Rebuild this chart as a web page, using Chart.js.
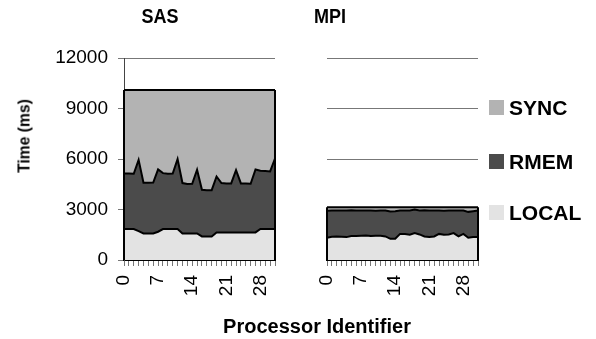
<!DOCTYPE html>
<html>
<head>
<meta charset="utf-8">
<script src="https://cdn.jsdelivr.net/npm/chart.js@4/dist/chart.umd.min.js"></script>
<style>
  body { margin: 0; background: #fff; font-family: "Liberation Sans", Arial, sans-serif; }
  #wrap { position: relative; width: 596px; height: 339px; overflow: hidden; }
  canvas { position: absolute; top: 0; }
  .txt { position: absolute; font-weight: bold; color: #000; line-height: 1; white-space: nowrap; }
  .sq { position: absolute; width: 15px; height: 15px; }
</style>
</head>
<body>
<div id="wrap">
  <canvas id="sas" width="290" height="339" style="left:0"></canvas>
  <canvas id="mpi" width="200" height="339" style="left:300px"></canvas>

  <div class="txt" style="left:160px;top:6px;font-size:20px;transform:translateX(-50%) scaleX(0.9)">SAS</div>
  <div class="txt" style="left:330px;top:6px;font-size:20px;transform:translateX(-50%) scaleX(0.9)">MPI</div>
  <div class="txt" style="left:24px;top:136px;font-size:17px;transform:translate(-50%,-50%) rotate(-90deg) scaleX(0.92)">Time (ms)</div>
  <div class="txt" style="left:317px;top:316px;font-size:20px;transform:translateX(-50%)">Processor Identifier</div>

  <div class="sq" style="left:489px;top:100px;background:#b3b3b3"></div>
  <div class="txt" style="left:509px;top:97px;font-size:21px">SYNC</div>
  <div class="sq" style="left:489px;top:154px;background:#4b4b4b"></div>
  <div class="txt" style="left:509px;top:151px;font-size:21px">RMEM</div>
  <div class="sq" style="left:489px;top:205px;background:#e3e3e3"></div>
  <div class="txt" style="left:509px;top:202px;font-size:21px">LOCAL</div>
</div>
<script>
const processors = Array.from({ length: 32 }, (_, i) => String(i));
const yTicks = [0, 3000, 6000, 9000, 12000];

const sasLocal = [1840, 1840, 1840, 1720, 1580, 1580, 1580, 1680, 1840, 1840, 1840, 1840, 1580, 1580, 1580, 1580,
                  1400, 1400, 1400, 1640, 1640, 1640, 1640, 1640, 1640, 1640, 1640, 1640, 1840, 1840, 1840, 1840];
const sasRmem = [3300, 3300, 3280, 4230, 3010, 3010, 3020, 3700, 3320, 3280, 3300, 4150, 2990, 2930, 2950, 3780,
                 2770, 2750, 2750, 3320, 2930, 2910, 2910, 3700, 2910, 2910, 2890, 3740, 3460, 3440, 3420, 4190];
const sasSync = [4960, 4960, 4980, 4150, 5510, 5510, 5500, 4720, 4940, 4980, 4960, 4110, 5530, 5590, 5570, 4740,
                 5930, 5950, 5950, 5140, 5530, 5550, 5550, 4760, 5550, 5550, 5570, 4720, 4800, 4820, 4840, 4070];

const mpiLocal = [1320, 1380, 1400, 1380, 1360, 1420, 1420, 1440, 1460, 1420, 1440, 1440, 1400, 1260, 1260, 1550,
                  1540, 1500, 1600, 1520, 1400, 1360, 1400, 1550, 1500, 1520, 1600, 1400, 1550, 1320, 1360, 1360];
const mpiRmem = [1600, 1560, 1540, 1560, 1580, 1530, 1520, 1500, 1480, 1520, 1490, 1500, 1540, 1620, 1630, 1390,
                 1400, 1440, 1400, 1420, 1550, 1580, 1540, 1390, 1430, 1420, 1340, 1540, 1390, 1540, 1540, 1580];
const mpiSync = [210, 190, 190, 190, 190, 180, 190, 190, 190, 190, 200, 190, 190, 250, 240, 190,
                 190, 190, 130, 190, 180, 190, 190, 190, 200, 190, 190, 190, 190, 270, 230, 190];

const colors = { local: '#e3e3e3', rmem: '#4b4b4b', sync: '#b3b3b3' };

// draws the left/right outline of the stacked area, like the original
const edgePlugin = {
  id: 'edges',
  afterDatasetsDraw(chart) {
    const ctx = chart.ctx;
    const top = chart.getDatasetMeta(chart.data.datasets.length - 1).data;
    const bottom = chart.chartArea.bottom;
    ctx.save();
    ctx.strokeStyle = '#000';
    ctx.lineWidth = 2;
    [top[0], top[top.length - 1]].forEach(p => {
      ctx.beginPath();
      ctx.moveTo(p.x, p.y);
      ctx.lineTo(p.x, bottom);
      ctx.stroke();
    });
    ctx.restore();
  }
};

function makeDatasets(local, rmem, sync) {
  const base = { borderColor: '#000', borderWidth: 2, pointRadius: 0, tension: 0 };
  return [
    { ...base, label: 'LOCAL', data: local, backgroundColor: colors.local, fill: 'origin' },
    { ...base, label: 'RMEM', data: rmem, backgroundColor: colors.rmem, fill: '-1' },
    { ...base, label: 'SYNC', data: sync, backgroundColor: colors.sync, fill: '-1' }
  ];
}

function makeChart(id, local, rmem, sync, showY, yWidth, padRight) {
  return new Chart(document.getElementById(id), {
    type: 'line',
    data: { labels: processors, datasets: makeDatasets(local, rmem, sync) },
    plugins: [edgePlugin],
    options: {
      responsive: false,
      animation: false,
      layout: { padding: { left: 0, right: padRight, top: 58, bottom: 0 } },
      plugins: { legend: { display: false }, tooltip: { enabled: false } },
      scales: {
        x: {
          offset: false,
          afterFit: s => { s.height = 79; s.paddingLeft = 0; s.paddingRight = 0; },
          grid: { drawOnChartArea: false, color: '#777', tickLength: 6 },
          border: { color: '#000', width: 2 },
          ticks: {
            autoSkip: false, maxRotation: 90, minRotation: 90, padding: 9,
            color: '#000', font: { family: 'Liberation Sans', size: 19 },
            callback: (v, i) => (i % 7 === 0 ? processors[i] : '')
          }
        },
        y: {
          stacked: true,
          min: 0, max: 12000,
          afterFit: s => { s.width = yWidth; },
          afterBuildTicks: s => { s.ticks = yTicks.map(v => ({ value: v })); },
          grid: { color: '#777', tickLength: 6, drawTicks: showY },
          border: { display: showY, color: '#444', width: 1 },
          ticks: {
            display: showY, padding: 10, color: '#000',
            font: { family: 'Liberation Sans', size: 19 },
            callback: v => String(v)
          }
        }
      }
    }
  });
}

makeChart('sas', sasLocal, sasRmem, sasSync, true, 124, 15);
makeChart('mpi', mpiLocal, mpiRmem, mpiSync, false, 27, 22);
</script>
</body>
</html>
